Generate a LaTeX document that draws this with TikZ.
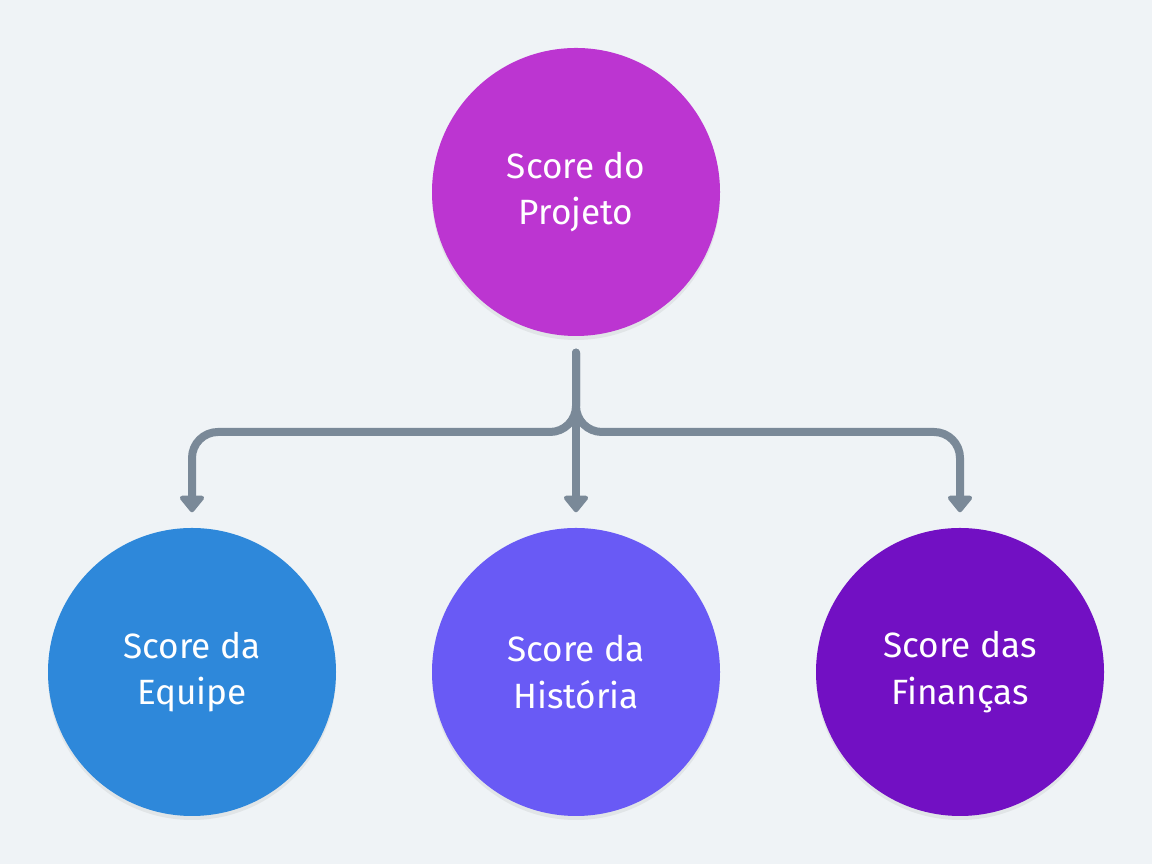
\documentclass[tikz,border=0pt]{standalone}
\usepackage{fontspec}
\setmainfont{Fira Sans}
\usepackage{tikz}
\usetikzlibrary{arrows.meta}
\usetikzlibrary{shadows}

\definecolor{fundo}{HTML}{EFF3F6}
\definecolor{linha}{HTML}{7A8998}
\definecolor{roxo}{HTML}{BC35D1}
\definecolor{azul}{HTML}{2E88DA}
\definecolor{violeta}{HTML}{695AF5}
\definecolor{uva}{HTML}{7210C3}

\begin{document}
\begin{tikzpicture}[
        >={Triangle[width=0.28cm, length=0.18cm, round]},
        score/.style={circle, minimum size=2.88cm, inner sep=0pt,
            text=white, align=center,
            font=\fontsize{10pt}{13.2pt}\selectfont,
            drop shadow={shadow xshift=0cm, shadow yshift=-0.04cm, opacity=0.12}},
        conn/.style={draw=linha, line width=0.08cm, line cap=round,
            rounded corners=0.26cm, ->},
    ]

    \fill[fundo] (0,0) rectangle (11.52,8.64);
    \useasboundingbox (0,0) rectangle (11.52,8.64);

    \node[score, fill=roxo]    (projeto)  at (5.76,6.72) {Score do\\Projeto};
    \node[score, fill=azul]    (equipe)   at (1.92,1.92) {Score da\\Equipe};
    \node[score, fill=violeta] (historia) at (5.76,1.92) {Score da\\História};
    \node[score, fill=uva]     (financas) at (9.60,1.92) {Score das\\Finanças};

    \coordinate (juncao) at (5.76,4.32);

    \draw[conn] ([yshift=-0.16cm]projeto.south) -- (juncao)
        -| ([yshift=0.15cm]equipe.north);
    \draw[conn] ([yshift=-0.16cm]projeto.south) -- (juncao)
        -| ([yshift=0.15cm]financas.north);
    \draw[conn] ([yshift=-0.16cm]projeto.south) -- ([yshift=0.15cm]historia.north);

\end{tikzpicture}
\end{document}
